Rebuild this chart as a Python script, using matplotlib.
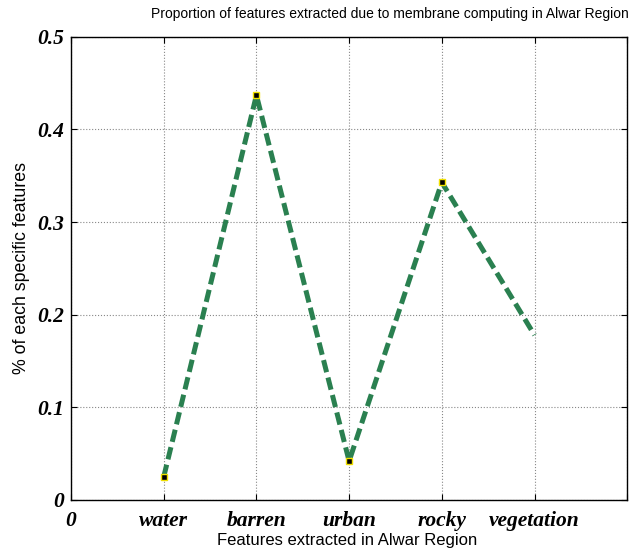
import matplotlib
matplotlib.use("Agg")
import matplotlib.pyplot as plt

categories = ["water", "barren", "urban", "rocky", "vegetation"]
proportions = [0.025, 0.437, 0.042, 0.343, 0.178]
y_ticks = [0, 0.1, 0.2, 0.3, 0.4, 0.5]
y_tick_labels = ["0", "0.1", "0.2", "0.3", "0.4", "0.5"]

fig = plt.figure(figsize=(6.4, 5.54), dpi=100)
ax = fig.add_axes([0.111, 0.0975, 0.869, 0.836])

xs = list(range(1, len(categories) + 1))
ax.plot(xs, proportions, linestyle=(0, (2.5, 1.1)), color="#2a8050", linewidth=3.6,
        dash_capstyle="butt", zorder=3)
ax.plot(xs[:-1], proportions[:-1], linestyle="none", marker="s", markersize=4.5,
        markerfacecolor="black", markeredgecolor="#f0e000", markeredgewidth=1.0, zorder=4)

ax.set_xlim(0, 6)
ax.set_ylim(0, 0.5)
ax.set_xticks(range(0, 7))
ax.set_xticklabels(["0"] + categories + [""])
ax.set_yticks(y_ticks)
ax.set_yticklabels(y_tick_labels)

for lbl in ax.get_xticklabels() + ax.get_yticklabels():
    lbl.set_fontfamily("Liberation Serif")
    lbl.set_fontweight("bold")
    lbl.set_fontstyle("italic")
    lbl.set_fontsize(15.5)

ax.tick_params(direction="in", length=4, width=0.8, top=True, right=True)
ax.tick_params(axis="x", pad=8)
ax.tick_params(axis="y", pad=5)
ax.grid(True, color="#888888", linestyle=":", linewidth=0.8)
for s in ax.spines.values():
    s.set_linewidth(1.0)

fig.text(390 / 640, 1 - 14 / 554,
         "Proportion of features extracted due to membrane computing in Alwar Region",
         fontfamily="Liberation Sans", fontsize=10, ha="center", va="center")
fig.text(347 / 640, 1 - 540 / 554, "Features extracted in Alwar Region",
         fontfamily="Liberation Sans", fontsize=12, ha="center", va="center")
fig.text(22 / 640, 1 - 268 / 554, "% of each specific features",
         fontfamily="Liberation Sans", fontsize=12.8, ha="center", va="center",
         rotation=90)

fig.savefig("out.png", dpi=100)
